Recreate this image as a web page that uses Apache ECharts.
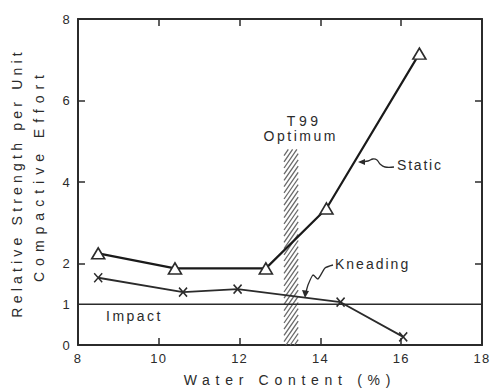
<!DOCTYPE html>
<html>
<head>
<meta charset="utf-8">
<script src="https://cdn.jsdelivr.net/npm/echarts@6/dist/echarts.min.js"></script>
<style>
html,body{margin:0;padding:0;background:#fff;}
#c{width:494px;height:389px;}
</style>
</head>
<body>
<div id="c"></div>
<script>
// ---- data ----
const staticX = [8.5, 10.4, 12.65, 14.15, 16.45];
const staticY = [2.25, 1.88, 1.88, 3.35, 7.15];
const kneadX = [8.5, 10.6, 11.95, 14.5, 16.05];
const kneadY = [1.65, 1.3, 1.37, 1.05, 0.2];
const impactX = [8, 18];
const impactY = [1, 1];
const bandX = [13.1, 13.45];   // T99 optimum band
const bandY = [0, 4.8];
const xTickLabels = [8, 10, 12, 14, 16, 18];
const xTickMarks = [10, 12, 14, 16];
const yTickLabels = [0, 1, 2, 4, 6, 8];
const yTickMarks = [2, 4, 6];

const INK = '#2b2b2b';
const FONT = 'Liberation Sans';
const F14 = '14px "Liberation Sans"';

// letter spacing (px) per text, to imitate the lettering-template style
const SPACING = {
  'Relative Strength per Unit': 4.2,
  'Compactive Effort': 6,
  'Water Content (%)': 5.7,
  'T99': 3.6,
  'Optimum': 2.5,
  'Static': 1.8,
  'Kneading': 2,
  'Impact': 2.5
};

const chart = echarts.init(document.getElementById('c'), null, {renderer: 'svg'});

function zipXY(xs, ys) { return xs.map((x, i) => [x, ys[i]]); }

function hatchRender(params, api) {
  const tl = api.coord([api.value(0), api.value(3)]);
  const br = api.coord([api.value(1), api.value(2)]);
  const x0 = tl[0], y0 = tl[1], x1 = br[0], y1 = br[1];
  const a = 1.45, step = 6.2;
  const children = [];
  for (let k = y0 + a * x0; k <= y1 + a * x1 + step; k += step) {
    const xa = Math.max(x0, (k - y1) / a);
    const xb = Math.min(x1, (k - y0) / a);
    if (xa < xb) {
      children.push({
        type: 'line',
        shape: {x1: xa, y1: k - a * xa, x2: xb, y2: k - a * xb},
        style: {stroke: '#6a6a6a', lineWidth: 1.3}
      });
    }
  }
  return {type: 'group', children: children};
}

const xBase = {
  type: 'value', min: 8, max: 18, interval: 2,
  splitLine: {show: false},
  axisLine: {show: true, onZero: false, lineStyle: {color: INK, width: 2}},
};
const yBase = {
  type: 'value', min: 0, max: 8, interval: 1,
  splitLine: {show: false},
  axisLine: {show: true, onZero: false, lineStyle: {color: INK, width: 2}},
};

const option = {
  animation: false,
  backgroundColor: '#fff',
  grid: {left: 78, right: 12, top: 19, bottom: 44},
  xAxis: [
    Object.assign({}, xBase, {
      position: 'bottom',
      axisTick: {show: true, inside: true, length: 7, customValues: xTickMarks, lineStyle: {color: INK, width: 1.5}},
      axisLabel: {show: true, customValues: xTickLabels, margin: 7, color: INK, fontSize: 13, fontFamily: FONT}
    }),
    Object.assign({}, xBase, {
      position: 'top',
      axisTick: {show: true, inside: true, length: 7, customValues: xTickMarks, lineStyle: {color: INK, width: 1.5}},
      axisLabel: {show: false}
    })
  ],
  yAxis: [
    Object.assign({}, yBase, {
      position: 'left',
      axisTick: {show: true, inside: true, length: 7, customValues: yTickMarks, lineStyle: {color: INK, width: 1.5}},
      axisLabel: {show: true, customValues: yTickLabels, margin: 7, color: INK, fontSize: 13, fontFamily: FONT}
    }),
    Object.assign({}, yBase, {
      position: 'right',
      axisTick: {show: true, inside: true, length: 7, customValues: yTickMarks, lineStyle: {color: INK, width: 1.5}},
      axisLabel: {show: false}
    })
  ],
  series: [
    {
      type: 'custom', name: 'T99 Optimum',
      renderItem: hatchRender,
      encode: {x: [0, 1], y: [2, 3]},
      data: [[bandX[0], bandX[1], bandY[0], bandY[1]]],
      z: 1, silent: true
    },
    {
      type: 'line', name: 'Impact',
      data: zipXY(impactX, impactY),
      showSymbol: false, symbol: 'none',
      lineStyle: {color: INK, width: 1.6},
      z: 2
    },
    {
      type: 'line', name: 'Kneading',
      data: zipXY(kneadX, kneadY),
      symbol: 'path://M0,0L10,10M10,0L0,10',
      symbolSize: [8, 9],
      itemStyle: {color: 'rgba(0,0,0,0)', borderColor: INK, borderWidth: 1.6},
      lineStyle: {color: INK, width: 1.8},
      z: 3
    },
    {
      type: 'line', name: 'Static',
      data: zipXY(staticX, staticY),
      symbol: 'triangle',
      symbolSize: [13, 11],
      itemStyle: {color: '#fff', borderColor: INK, borderWidth: 1.6},
      lineStyle: {color: '#1a1a1a', width: 2.2},
      z: 4
    }
  ],
  graphic: [
    {type: 'text', x: 17, y: 185 - 2.1, rotation: Math.PI / 2,
     style: {text: 'Relative Strength per Unit', fill: INK, font: F14, textAlign: 'center', textVerticalAlign: 'middle'}},
    {type: 'text', x: 39, y: 178.5 - 3, rotation: Math.PI / 2,
     style: {text: 'Compactive Effort', fill: INK, font: F14, textAlign: 'center', textVerticalAlign: 'middle'}},
    {type: 'text', x: 287 + 2.85, y: 380,
     style: {text: 'Water Content (%)', fill: INK, font: F14, textAlign: 'center', textVerticalAlign: 'middle'}},
    {type: 'text', x: 302.5 + 1.8, y: 121,
     style: {text: 'T99', fill: INK, font: F14, textAlign: 'center', textVerticalAlign: 'middle'}},
    {type: 'text', x: 299.5 + 1.25, y: 136,
     style: {text: 'Optimum', fill: INK, font: F14, textAlign: 'center', textVerticalAlign: 'middle'}},
    {type: 'text', x: 397, y: 165,
     style: {text: 'Static', fill: INK, font: F14, textAlign: 'left', textVerticalAlign: 'middle'}},
    {type: 'text', x: 335, y: 264,
     style: {text: 'Kneading', fill: INK, font: F14, textAlign: 'left', textVerticalAlign: 'middle'}},
    {type: 'text', x: 106, y: 316,
     style: {text: 'Impact', fill: INK, font: F14, textAlign: 'left', textVerticalAlign: 'middle'}},
    // squiggle pointer for Static
    {type: 'polyline', shape: {points: [[394,167],[385,167],[380,164],[377,160],[373,159],[368,161],[361,162]], smooth: 0.4},
     style: {stroke: INK, lineWidth: 1.3, fill: null}},
    {type: 'polygon', shape: {points: [[358,162],[365,159],[365,165]]}, style: {fill: INK}},
    // squiggle pointer for Kneading
    {type: 'polyline', shape: {points: [[333,265],[325,268],[318,279],[313,275],[308,285],[306,292]], smooth: 0.2},
     style: {stroke: INK, lineWidth: 1.3, fill: null}},
    {type: 'polygon', shape: {points: [[305,298],[302,290],[309,291]]}, style: {fill: INK}}
  ]
};

chart.setOption(option);

function spaceText() {
  const texts = document.querySelectorAll('#c svg text');
  texts.forEach(t => {
    const s = t.textContent;
    let ls = 0;
    if (SPACING[s] !== undefined) ls = SPACING[s];
    else if (/^\d+$/.test(s)) ls = 1.2;
    t.style.letterSpacing = ls + 'px';
  });
}
chart.on('finished', spaceText);
spaceText();
setTimeout(spaceText, 50);
</script>
</body>
</html>
